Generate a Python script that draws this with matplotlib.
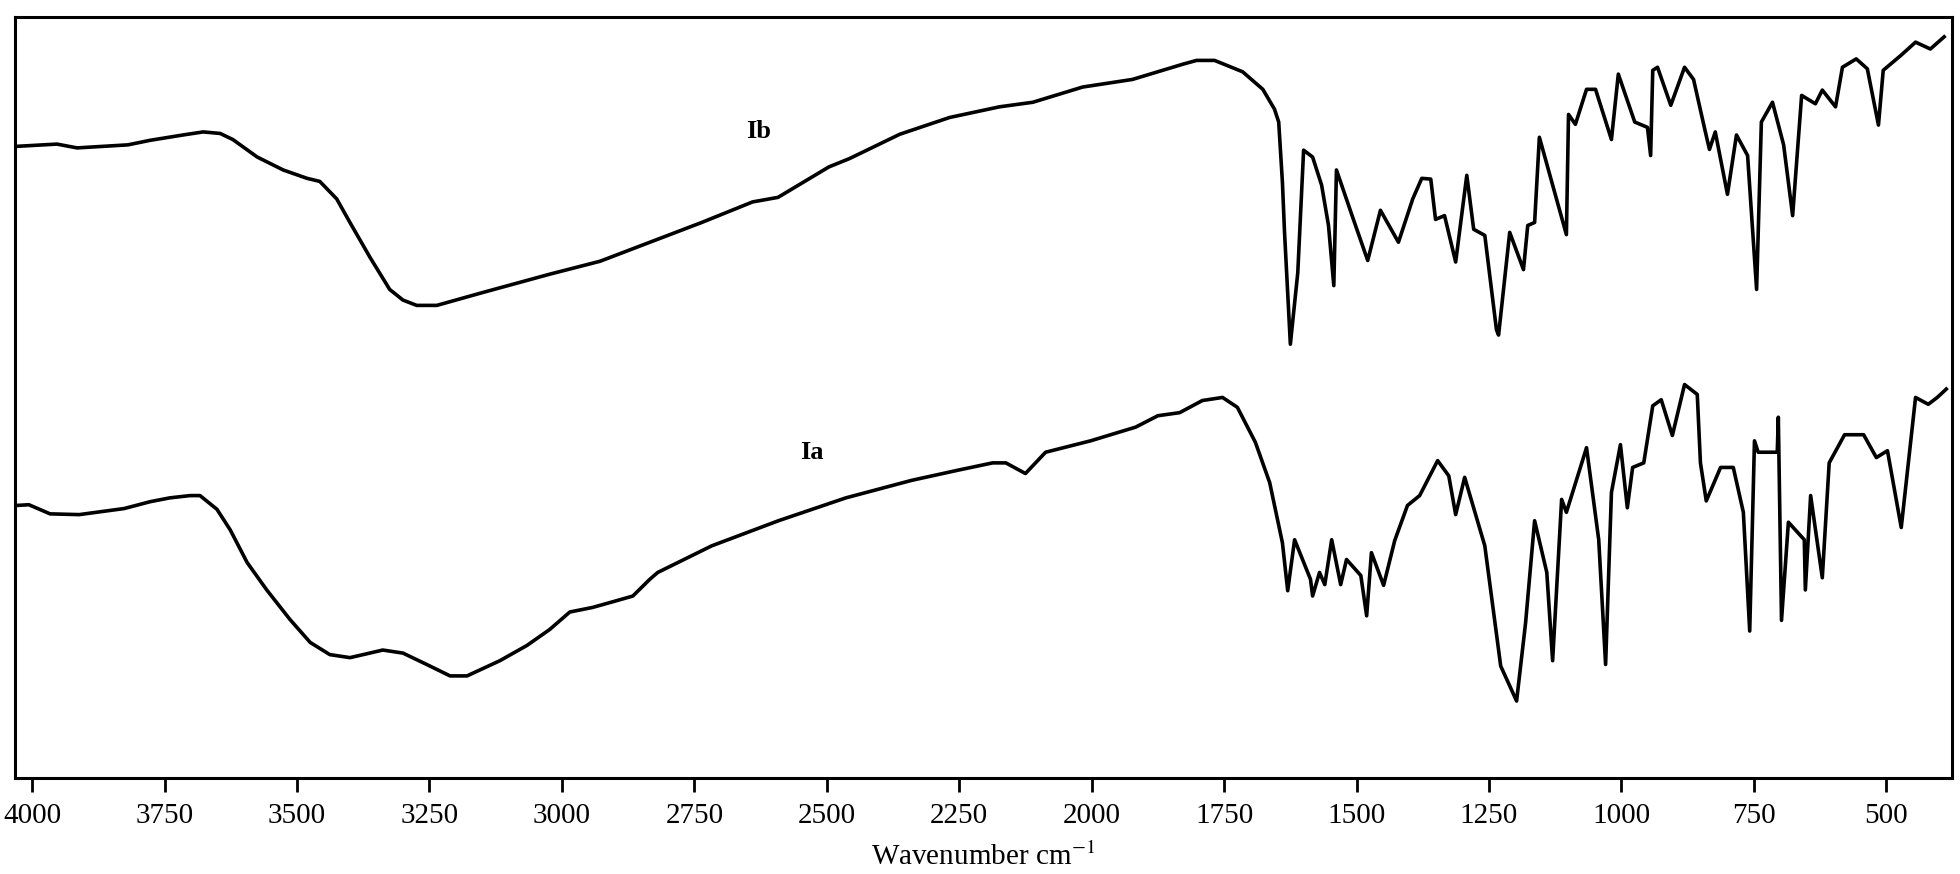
import matplotlib.pyplot as plt

plt.rcParams['font.family'] = ['Liberation Serif', 'DejaVu Serif']
plt.rcParams['mathtext.fontset'] = 'stix'

# IR spectrum Ib (upper trace): wavenumber (cm-1) and transmittance (%)
ib_wn = [4030, 3953, 3915, 3819, 3777, 3715, 3677, 3645, 3621, 3575, 3526, 3481,
         3457, 3425, 3400, 3362, 3325, 3300, 3274, 3236, 3149, 3023, 2928, 2736,
         2640, 2592, 2496, 2457, 2362, 2268, 2174, 2111, 2017, 1923, 1828, 1802,
         1768, 1715, 1677, 1655, 1647, 1640, 1636, 1625, 1611, 1600, 1583, 1566,
         1553, 1543, 1538, 1506, 1479, 1455, 1421, 1394, 1377, 1360, 1351, 1334,
         1313, 1292, 1279, 1258, 1236, 1232, 1211, 1185, 1177, 1164, 1155, 1104,
         1100, 1087, 1066, 1049, 1019, 1006, 975, 951, 945, 941, 932, 907, 881,
         864, 843, 834, 823, 800, 783, 762, 745, 736, 715, 694, 677, 660, 634,
         621, 596, 583, 557, 536, 515, 506, 472, 445, 417, 391]
ib_t = [83.0, 83.3, 82.8, 83.2, 83.8, 84.5, 84.9, 84.7, 83.9, 81.6, 79.9, 78.8,
        78.4, 76.1, 73.0, 68.4, 64.2, 62.8, 62.1, 62.1, 63.8, 66.2, 67.9, 73.0,
        75.7, 76.3, 80.3, 81.4, 84.6, 86.8, 88.2, 88.8, 90.8, 91.8, 93.8, 94.3,
        94.3, 92.8, 90.5, 87.9, 86.2, 78.3, 71.7, 57.0, 66.4, 82.5, 81.6, 77.9,
        72.6, 64.7, 79.9, 73.4, 68.0, 74.6, 70.4, 76.1, 78.8, 78.7, 73.4, 73.9,
        67.8, 79.2, 72.1, 71.3, 58.9, 58.2, 71.7, 66.8, 72.6, 73.0, 84.2, 71.4,
        87.2, 85.9, 90.5, 90.5, 83.9, 92.5, 86.2, 85.5, 81.8, 93.0, 93.4, 88.4, 93.4,
        91.8, 85.3, 82.6, 84.9, 76.7, 84.5, 81.8, 64.2, 86.2, 88.8, 83.2, 73.9, 89.7, 88.6,
        90.4, 88.2, 93.4, 94.5, 93.2, 85.8, 93.0, 95.0, 96.7, 95.8, 97.4]

# IR spectrum Ia (lower trace)
ia_wn = [4030, 4006, 3966, 3911, 3826, 3777, 3740, 3702, 3683, 3651, 3626, 3594,
         3557, 3513, 3475, 3438, 3400, 3375, 3338, 3300, 3255, 3211, 3179, 3117,
         3066, 3023, 2985, 2942, 2896, 2866, 2834, 2819, 2717, 2591, 2464, 2340,
         2255, 2187, 2162, 2125, 2087, 2002, 1917, 1875, 1834, 1791, 1753, 1725,
         1691, 1664, 1640, 1630, 1617, 1587, 1583, 1570, 1560, 1547, 1530, 1519,
         1492, 1481, 1472, 1449, 1428, 1404, 1381, 1347, 1326, 1313, 1296, 1258,
         1228, 1198, 1181, 1164, 1141, 1130, 1113, 1104, 1066, 1043, 1030, 1019,
         1002, 989, 979, 958, 941, 925, 904, 881, 857, 851, 840, 813, 789, 770,
         758, 749, 742, 706, 704, 698, 685, 655, 653, 643, 621, 608, 579, 543,
         519, 498, 472, 445, 421, 404, 387]
ia_t = [35.8, 35.9, 34.7, 34.6, 35.4, 36.3, 36.8, 37.1, 37.1, 35.3, 32.6, 28.3,
        24.7, 20.8, 17.8, 16.2, 15.8, 16.2, 16.8, 16.4, 14.9, 13.4, 13.4, 15.4,
        17.4, 19.5, 21.8, 22.4, 23.3, 23.9, 26.1, 27.0, 30.5, 33.8, 36.8, 39.1,
        40.4, 41.4, 41.4, 40.0, 42.8, 44.3, 46.1, 47.6, 48.0, 49.6, 50.0, 48.7,
        44.1, 38.8, 30.9, 24.6, 31.3, 26.1, 23.9, 27.0, 25.4, 31.3, 25.4, 28.7,
        26.6, 21.3, 29.6, 25.3, 31.2, 35.8, 37.1, 41.7, 39.7, 34.6, 39.5, 30.5,
        14.7, 10.1, 20.4, 33.8, 27.0, 15.4, 36.6, 34.9, 43.4, 31.3, 14.9, 37.5,
        43.8, 35.5, 40.8, 41.4, 48.9, 49.7, 45.0, 51.7, 50.4, 41.4, 36.4, 40.8, 40.8, 34.9,
        19.3, 44.3, 42.8, 42.8, 47.4, 20.7, 33.6, 31.3, 24.7, 37.1, 26.3, 41.4, 45.1, 45.1,
        42.1, 43.0, 32.9, 50.0, 49.1, 50.0, 51.1]

ticks = [4000, 3750, 3500, 3250, 3000, 2750, 2500, 2250, 2000, 1750, 1500, 1250, 1000, 750, 500]

fig = plt.figure(figsize=(19.6, 8.74), dpi=100)
ax = fig.add_axes([0.0077, 0.110, 0.988, 0.8705])

ax.plot(ib_wn, ib_t, color='black', lw=2.6)
ax.plot(ia_wn, ia_t, color='black', lw=2.6)

ax.text(2628, 84.9, 'Ib', fontsize=19, fontweight='bold', ha='center', va='center')
ax.text(2528, 42.8, 'Ia', fontsize=19, fontweight='bold', ha='center', va='center')

ax.set_xlim(4032, 377)
ax.set_ylim(0, 100)
ax.set_xticks(ticks)
ax.set_xticklabels([str(t) for t in ticks])
ax.set_yticks([])
ax.tick_params(axis='x', direction='out', length=10, width=2, labelsize=21, pad=8)
for s in ax.spines.values():
    s.set_linewidth(2.2)

ax.set_xlabel('Wavenumber cm$^{-1}$', fontsize=21, labelpad=10)

fig.savefig('out.png', dpi=100)
